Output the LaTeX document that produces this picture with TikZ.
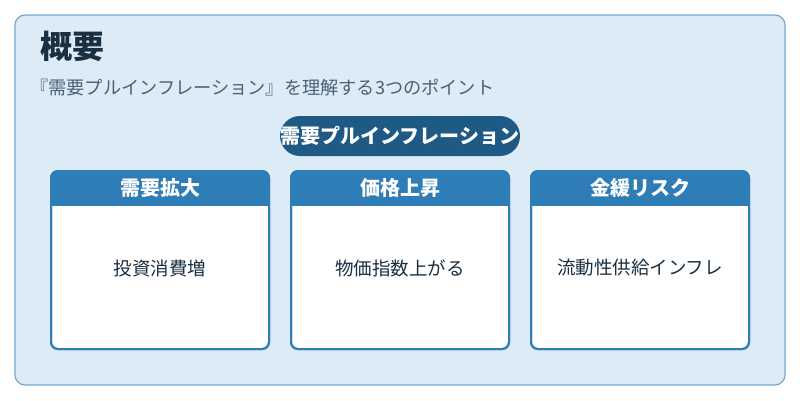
\documentclass[tikz,border=0pt]{standalone}
\usepackage{fontspec}
\setmainfont{Noto Sans CJK JP}
\definecolor{bgc}{HTML}{DCEBF6}
\definecolor{bdc}{HTML}{6FAAD3}
\definecolor{hdc}{HTML}{2E7DB6}
\definecolor{pillc}{HTML}{1F5A86}
\definecolor{ttl}{HTML}{1A2F40}
\definecolor{sub}{HTML}{4A6275}
\tikzset{
 cardbody/.style={draw=hdc,line width=2pt,fill=white,rounded corners=7pt,minimum width=218pt,minimum height=178pt},
 cardhead/.style={fill=hdc,text=white,font=\bfseries\fontsize{20}{24}\selectfont},
 cardtext/.style={text=ttl,font=\fontsize{18.5}{22}\selectfont}
}
\begin{document}
\begin{tikzpicture}[x=1pt,y=-1pt]
\useasboundingbox (0,0) rectangle (800,400);
\fill[white] (0,0) rectangle (800,400);
\draw[draw=bdc,fill=bgc,line width=1.2pt,rounded corners=10pt] (15,15) rectangle (785,385);
\node[anchor=west,text=ttl,font=\bfseries\fontsize{32}{36}\selectfont,inner sep=0pt] (title) at (40,46) {概要};
\node[anchor=west,text=sub,font=\fontsize{18.2}{21}\selectfont,inner sep=0pt] (subt) at (30,88) {『需要プルインフレーション』を理解する3つのポイント};
\node[fill=pillc,text=white,rounded corners=20pt,minimum width=240pt,minimum height=40pt,inner sep=0pt,font=\bfseries\fontsize{20}{24}\selectfont] (pill) at (400,136) {需要プルインフレーション};
\foreach \cx/\h/\t/\n in {160/需要拡大/投資消費増/a,400/価格上昇/物価指数上がる/b,640/金緩リスク/流動性供給インフレ/c}{
 \node[cardbody] (body\n) at (\cx,260) {};
 \begin{scope}
 \clip[rounded corners=7pt] (\cx-109,171) rectangle (\cx+109,349);
 \fill[hdc] (\cx-110,170) rectangle (\cx+110,206);
 \end{scope}
 \draw[draw=hdc,line width=2pt,rounded corners=7pt] (\cx-109,171) rectangle (\cx+109,349);
 \node[cardhead] (head\n) at (\cx,188) {\h};
 \node[cardtext] (txt\n) at (\cx,268) {\t};
}
\end{tikzpicture}
\end{document}
